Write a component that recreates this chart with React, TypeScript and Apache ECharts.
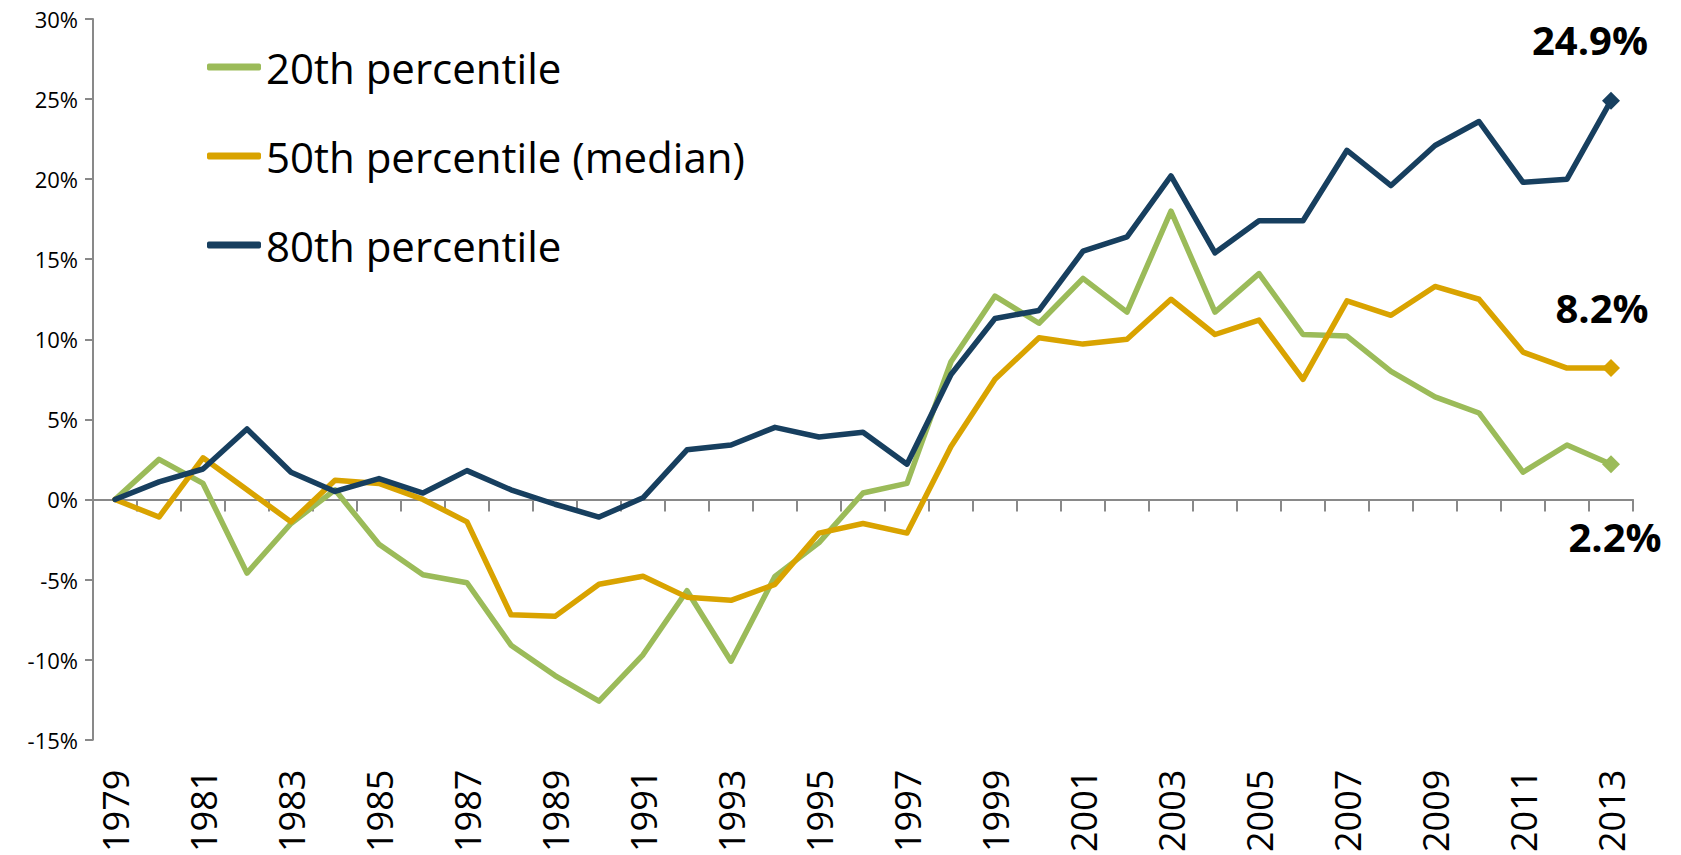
import React, { useEffect, useRef } from "react";
import * as echarts from "echarts";

const years: string[] = [
  "1979", "1980", "1981", "1982", "1983", "1984", "1985", "1986", "1987", "1988",
  "1989", "1990", "1991", "1992", "1993", "1994", "1995", "1996", "1997", "1998",
  "1999", "2000", "2001", "2002", "2003", "2004", "2005", "2006", "2007", "2008",
  "2009", "2010", "2011", "2012", "2013",
];

const p20: number[] = [
  0, 2.5, 1.0, -4.6, -1.5, 0.6, -2.8, -4.7, -5.2, -9.1,
  -11.0, -12.6, -9.7, -5.7, -10.1, -4.8, -2.7, 0.4, 1.0, 8.6,
  12.7, 11.0, 13.8, 11.7, 18.0, 11.7, 14.1, 10.3, 10.2, 8.0,
  6.4, 5.4, 1.7, 3.4, 2.2,
];

const p50: number[] = [
  0, -1.1, 2.6, 0.6, -1.4, 1.2, 1.0, 0.0, -1.4, -7.2,
  -7.3, -5.3, -4.8, -6.1, -6.3, -5.3, -2.1, -1.5, -2.1, 3.3,
  7.5, 10.1, 9.7, 10.0, 12.5, 10.3, 11.2, 7.5, 12.4, 11.5,
  13.3, 12.5, 9.2, 8.2, 8.2,
];

const p80: number[] = [
  0, 1.1, 1.9, 4.4, 1.7, 0.5, 1.3, 0.4, 1.8, 0.6,
  -0.3, -1.1, 0.1, 3.1, 3.4, 4.5, 3.9, 4.2, 2.2, 7.8,
  11.3, 11.8, 15.5, 16.4, 20.2, 15.4, 17.4, 17.4, 21.8, 19.6,
  22.1, 23.6, 19.8, 20.0, 24.9,
];

const seriesNames: string[] = ["20th percentile", "50th percentile (median)", "80th percentile"];
const seriesColors: string[] = ["#9BBB59", "#D9A300", "#173F5F"];
const endLabelOffsets: number[][] = [[4, 72], [-9, -61], [-21, -61]];

const FONT = "Open Sans";

function buildData(values: number[], color: string, offset: number[]) {
  return values.map((v, i) => {
    if (i !== values.length - 1) return v;
    return {
      value: v,
      symbol: "diamond",
      symbolSize: 18,
      itemStyle: { color },
      label: {
        show: true,
        position: "inside",
        offset,
        align: "center",
        verticalAlign: "middle",
        formatter: (p: any) => `${Number(p.value).toFixed(1)}%`,
        fontFamily: FONT,
        fontWeight: "bold",
        fontSize: 40,
        color: "#000",
      },
    };
  });
}

export default function App() {
  const ref = useRef<HTMLDivElement>(null);

  useEffect(() => {
    if (!ref.current) return;
    const chart = echarts.init(ref.current, undefined, { renderer: "svg" });
    const allValues = [p20, p50, p80];
    chart.setOption({
      animation: false,
      backgroundColor: "#fff",
      grid: { left: 93, right: 48, top: 19, bottom: 115, containLabel: false },
      legend: {
        show: true,
        orient: "vertical",
        left: 202,
        top: 41,
        itemWidth: 54,
        itemHeight: 7,
        itemGap: 47,
        icon: "roundRect",
        data: seriesNames.map((n, i) => ({ name: n, itemStyle: { color: seriesColors[i] } })),
        textStyle: { fontFamily: FONT, fontSize: 42, lineHeight: 42, color: "#000" },
      },
      xAxis: [
        {
          type: "category",
          data: years,
          boundaryGap: true,
          axisLine: { show: true, onZero: true, lineStyle: { color: "#898989", width: 2 } },
          axisTick: { show: true, interval: 0, length: 12, alignWithLabel: false, lineStyle: { color: "#898989", width: 2 } },
          axisLabel: { show: false },
          splitLine: { show: false },
        },
        {
          type: "category",
          data: years,
          boundaryGap: true,
          position: "bottom",
          axisLine: { show: false, onZero: false },
          axisTick: { show: false },
          axisLabel: {
            show: true,
            interval: 1,
            rotate: 90,
            margin: 30,
            fontFamily: FONT,
            fontSize: 36,
            color: "#000",
          },
          splitLine: { show: false },
        },
      ],
      yAxis: {
        type: "value",
        min: -15,
        max: 30,
        interval: 5,
        axisLine: { show: true, lineStyle: { color: "#898989", width: 2 } },
        axisTick: { show: true, length: 8, lineStyle: { color: "#898989", width: 2 } },
        axisLabel: {
          formatter: "{value}%",
          fontFamily: FONT,
          fontSize: 22,
          color: "#000",
          margin: 15,
        },
        splitLine: { show: false },
      },
      series: allValues.map((vals, idx) => ({
        name: seriesNames[idx],
        type: "line",
        xAxisIndex: 0,
        data: buildData(vals, seriesColors[idx], endLabelOffsets[idx]),
        symbol: "none",
        showSymbol: true,
        color: seriesColors[idx],
        lineStyle: { color: seriesColors[idx], width: 5.5, cap: "round", join: "round" },
        itemStyle: { color: seriesColors[idx] },
        z: 2 + idx,
      })),
    });
    return () => {
      chart.dispose();
    };
  }, []);

  return (
    <div
      ref={ref}
      style={{ position: "fixed", left: 0, top: 0, width: 1681, height: 855, background: "#fff" }}
    />
  );
}
